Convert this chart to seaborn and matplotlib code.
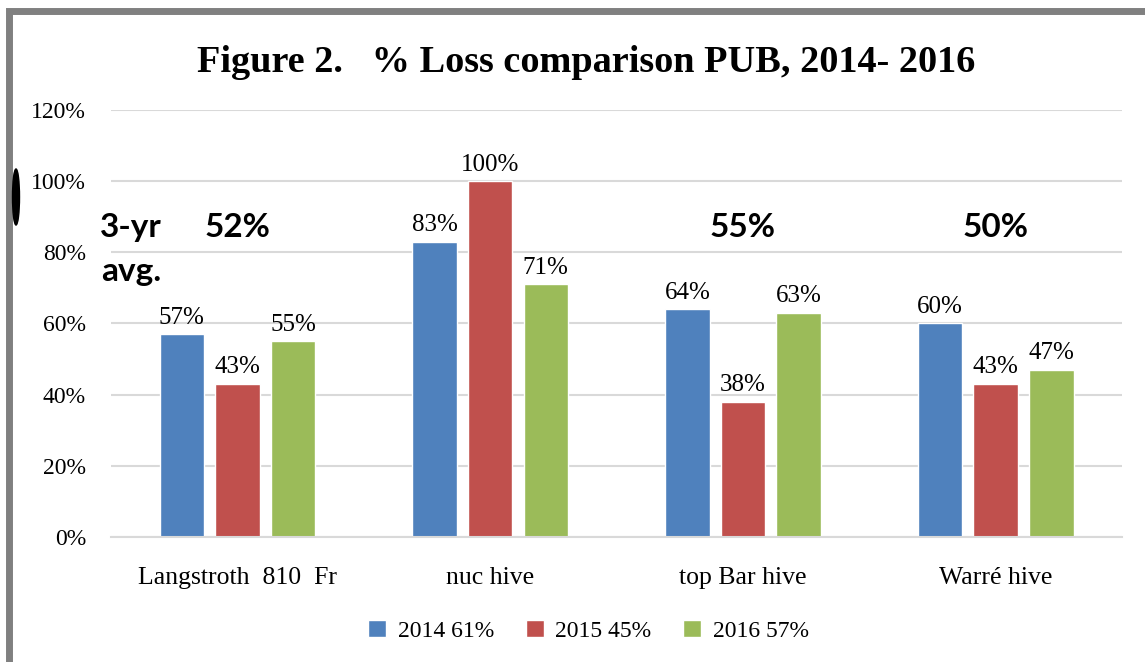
import pandas as pd
import matplotlib.pyplot as plt
import seaborn as sns
from matplotlib.patches import Ellipse, Rectangle

# data
hives = ['Langstroth  810  Fr', 'nuc hive', 'top Bar hive', 'Warré hive']
years = ['2014 61%', '2015 45%', '2016 57%']
loss_2014 = [57, 83, 64, 60]
loss_2015 = [43, 100, 38, 43]
loss_2016 = [55, 71, 63, 47]
avg_labels = ['52%', '', '55%', '50%']
colors = ['#4f81bd', '#c0504d', '#9bbb59']

df = pd.DataFrame({
    'hive': hives * 3,
    'year': [y for y in years for _ in hives],
    'loss': loss_2014 + loss_2015 + loss_2016,
})

sns.set_style('white')
plt.rcParams['font.family'] = ['Liberation Serif', 'DejaVu Serif']
plt.rcParams['text.color'] = 'black'
plt.rcParams['xtick.color'] = 'black'
plt.rcParams['ytick.color'] = 'black'

fig = plt.figure(figsize=(11.45, 6.62), dpi=100)
ax = fig.add_axes([0.097, 0.189, 0.883, 0.645])

sns.barplot(data=df, x='hive', y='loss', hue='year', palette=colors,
            width=0.66, gap=0.2, ax=ax, legend=True, saturation=1)

for cont in ax.containers:
    ax.bar_label(cont, labels=[f'{v:.0f}%' for v in cont.datavalues],
                 padding=4, fontsize=18)

ax.set_ylim(0, 120)
ax.set_yticks(range(0, 121, 20))
ax.set_yticklabels([f'{t}%' for t in range(0, 121, 20)], fontsize=17)
ax.tick_params(axis='x', labelsize=18.5, length=0, pad=22)
ax.tick_params(axis='y', length=0, pad=18)
ax.set_xlabel('')
ax.set_ylabel('')
ax.grid(axis='y', color='#d9d9d9', linewidth=1.5)
ax.set_axisbelow(True)
for s in ['left', 'right', 'top']:
    ax.spines[s].set_visible(False)
ax.spines['bottom'].set_color('#d9d9d9')
ax.spines['bottom'].set_linewidth(1.5)

# 3-yr averages
sans = ['Lato', 'DejaVu Sans']
for i, lab in enumerate(avg_labels):
    if lab:
        ax.text(i, 87, lab, ha='center', va='center', fontsize=24,
                fontweight='bold', family=sans)
ax.text(-0.42, 87, '3-yr', ha='center', va='center', fontsize=24,
        fontweight='bold', family=sans)
ax.text(-0.42, 74.5, 'avg.', ha='center', va='center', fontsize=24,
        fontweight='bold', family=sans)

fig.text(0.512, 0.905, 'Figure 2.   % Loss comparison PUB, 2014- 2016',
         ha='center', va='center', fontsize=27.5, fontweight='bold')

handles, labels = ax.get_legend_handles_labels()
ax.legend_.remove()
fig.legend(handles, labels, loc='center', bbox_to_anchor=(0.514, 0.047),
           ncol=3, frameon=False, fontsize=17, handlelength=0.75,
           handleheight=0.75, columnspacing=1.35, handletextpad=0.5)

# frame and marker
fig.patches.append(Rectangle((9 / 1145, -0.1), 1.2, 1 - 10.5 / 662 + 0.1,
                             transform=fig.transFigure, fill=False,
                             edgecolor='#808080', linewidth=5))
fig.patches.append(Ellipse((16 / 1145, 1 - 197 / 662), 7 / 1145, 56 / 662,
                           transform=fig.transFigure, color='black'))

fig.savefig('out.png', dpi=100)
